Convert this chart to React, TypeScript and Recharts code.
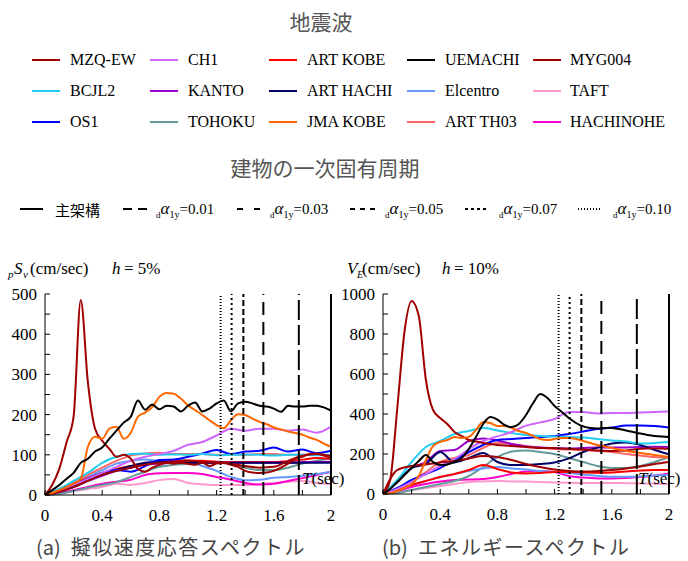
import React from 'react';
import { LineChart, Line, XAxis, YAxis, ReferenceLine } from 'recharts';

// period grids (sec)
const PERIODS = [0, 0.1, 0.2, 0.3, 0.4, 0.5, 0.6, 0.7, 0.8, 0.9, 1.0, 1.1, 1.2, 1.3, 1.4, 1.5, 1.6, 1.7, 1.8, 1.9, 2.0];
const PERIODS_FINE = [
  0, 0.05, 0.1, 0.15, 0.2, 0.25, 0.3, 0.35, 0.4, 0.45, 0.5, 0.55, 0.6, 0.65, 0.7, 0.75, 0.8, 0.85, 0.9, 0.95, 1.0,
  1.05, 1.1, 1.15, 1.2, 1.25, 1.3, 1.35, 1.4, 1.45, 1.5, 1.55, 1.6, 1.65, 1.7, 1.75, 1.8, 1.85, 1.9, 1.95, 2.0,
];

const X_TICKS = [0, 0.2, 0.4, 0.6, 0.8, 1.0, 1.2, 1.4, 1.6, 1.8, 2.0];
const SV_TICKS = [0, 50, 100, 150, 200, 250, 300, 350, 400, 450, 500];
const VE_TICKS = [0, 100, 200, 300, 400, 500, 600, 700, 800, 900, 1000];

// legend order: 5 columns x 3 rows
const WAVES = [
  { name: 'MZQ-EW', color: '#a00000' },
  { name: 'CH1', color: '#cc66ff' },
  { name: 'ART KOBE', color: '#ff0000' },
  { name: 'UEMACHI', color: '#000000' },
  { name: 'MYG004', color: '#a00000' },
  { name: 'BCJL2', color: '#22ccf0' },
  { name: 'KANTO', color: '#9900cc' },
  { name: 'ART HACHI', color: '#000066' },
  { name: 'Elcentro', color: '#6699ff' },
  { name: 'TAFT', color: '#ff99cc' },
  { name: 'OS1', color: '#0000ff' },
  { name: 'TOHOKU', color: '#669999' },
  { name: 'JMA KOBE', color: '#ff6600' },
  { name: 'ART TH03', color: '#ff6666' },
  { name: 'HACHINOHE', color: '#ff00cc' },
];

// natural periods of the building (main frame + damped cases)
const PERIOD_MARKS = [
  { t: 2.0, label: '主架構', dash: undefined, legendDash: undefined },
  { t: 1.775, label: '0.01', dash: '20 5', legendDash: '9 6' },
  { t: 1.527, label: '0.03', dash: '13 7', legendDash: '6 11' },
  { t: 1.387, label: '0.05', dash: '6 3', legendDash: '5 5' },
  { t: 1.305, label: '0.07', dash: '2 3', legendDash: '3 3' },
  { t: 1.228, label: '0.10', dash: '1 2', legendDash: '1 2' },
];

// (a) pseudo velocity response spectra pSv, h = 5%
const svMzq = [0, 25, 65, 130, 195, 485, 280, 165, 135, 115, 95, 100, 90, 65, 58, 68, 75, 80, 78, 80, 78, 75, 80, 72, 78, 80, 75, 70, 60, 56, 55, 56, 60, 68, 78, 90, 95, 102, 103, 98, 92];
const svUemachi = [0, 12, 25, 40, 55, 80, 90, 108, 118, 140, 160, 180, 195, 235, 212, 225, 213, 222, 220, 208, 222, 230, 208, 215, 228, 235, 208, 228, 232, 228, 222, 220, 215, 207, 222, 220, 220, 222, 222, 218, 210];
const svJmaKobe = [0, 5, 12, 20, 28, 40, 120, 145, 140, 165, 170, 140, 155, 195, 205, 219, 244, 254, 252, 240, 223, 211, 199, 186, 174, 166, 186, 201, 199, 190, 182, 176, 168, 163, 158, 154, 150, 143, 137, 128, 120];
const svCh1 = [0, 10, 25, 40, 55, 70, 85, 95, 102, 110, 125, 132, 148, 165, 160, 165, 165, 160, 163, 155, 170];
const svBcjl2 = [0, 15, 35, 55, 80, 95, 102, 103, 100, 101, 100, 102, 99, 100, 101, 100, 98, 100, 100, 99, 100];
const svOs1 = [0, 10, 25, 40, 55, 62, 58, 72, 87, 88, 95, 103, 112, 102, 108, 110, 118, 108, 113, 104, 110];
const svArtKobe = [0, 12, 28, 42, 55, 65, 72, 78, 82, 85, 86, 85, 83, 82, 82, 82, 82, 84, 88, 92, 90];
const svKanto = [0, 8, 20, 35, 48, 60, 68, 75, 78, 80, 80, 80, 80, 80, 80, 80, 80, 80, 82, 82, 82];
const svArtHachi = [0, 10, 22, 38, 52, 62, 72, 80, 83, 82, 80, 80, 80, 80, 80, 80, 80, 80, 80, 80, 80];
const svElcentro = [0, 12, 28, 45, 62, 78, 85, 88, 85, 88, 85, 72, 60, 45, 37, 38, 43, 45, 48, 52, 58];
const svTaft = [0, 5, 10, 15, 20, 28, 25, 30, 37, 40, 30, 27, 25, 25, 25, 27, 30, 33, 35, 30, 27];
const svTohoku = [0, 3, 10, 18, 25, 32, 45, 58, 70, 75, 78, 82, 80, 78, 68, 62, 62, 68, 78, 85, 90];
const svArtTh03 = [0, 15, 30, 50, 68, 85, 98, 103, 105, 102, 102, 102, 100, 100, 100, 102, 102, 100, 100, 100, 98];
const svHachinohe = [0, 5, 12, 20, 28, 33, 38, 50, 54, 55, 55, 52, 45, 38, 30, 26, 28, 35, 42, 50, 57];
const svMyg004 = [0, 8, 20, 35, 50, 60, 68, 75, 80, 82, 85, 83, 80, 78, 72, 68, 70, 85, 98, 102, 97];

// (b) energy spectra VE, h = 10%
const veMzq = [0, 70, 430, 810, 965, 890, 570, 420, 380, 350, 310, 290, 270, 262, 255, 250, 245, 243, 240, 238, 235, 232, 230, 230, 229, 228, 226, 224, 222, 220, 218, 216, 215, 216, 218, 222, 226, 228, 228, 227, 226];
const veUemachi = [0, 25, 60, 95, 130, 165, 195, 160, 145, 148, 160, 180, 225, 285, 350, 385, 372, 345, 335, 350, 395, 455, 500, 480, 440, 410, 380, 355, 338, 330, 328, 330, 330, 325, 318, 310, 302, 295, 290, 287, 285];
const veJmaKobe = [0, 5, 15, 30, 50, 90, 170, 240, 260, 270, 285, 280, 285, 320, 360, 355, 340, 340, 330, 315, 305, 290, 275, 270, 275, 280, 280, 275, 265, 255, 245, 238, 230, 222, 215, 210, 205, 200, 195, 190, 185];
const veCh1 = [0, 25, 60, 100, 140, 175, 225, 265, 288, 310, 342, 358, 375, 410, 410, 402, 405, 405, 408, 410, 412];
const veBcjl2 = [0, 70, 160, 235, 265, 300, 315, 330, 318, 305, 295, 290, 288, 285, 282, 275, 268, 262, 252, 255, 260];
const veOs1 = [0, 30, 70, 100, 130, 170, 210, 245, 270, 275, 280, 285, 290, 300, 312, 325, 332, 342, 343, 340, 332];
const veArtKobe = [0, 20, 45, 65, 85, 100, 120, 145, 125, 108, 103, 105, 110, 110, 108, 106, 108, 112, 118, 120, 120];
const veKanto = [0, 60, 130, 160, 215, 220, 265, 278, 268, 250, 238, 232, 230, 228, 230, 232, 232, 233, 235, 236, 235];
const veArtHachi = [0, 60, 130, 150, 210, 158, 180, 205, 160, 145, 145, 150, 158, 178, 210, 232, 252, 258, 245, 220, 198];
const veElcentro = [0, 20, 45, 65, 85, 100, 115, 128, 135, 128, 122, 115, 110, 105, 98, 90, 86, 86, 88, 92, 96];
const veTaft = [0, 10, 20, 30, 40, 50, 60, 63, 65, 63, 62, 60, 58, 56, 55, 55, 55, 54, 53, 51, 50];
const veTohoku = [0, 5, 20, 35, 50, 65, 90, 135, 185, 212, 218, 210, 200, 180, 160, 140, 130, 130, 140, 160, 185];
const veArtTh03 = [0, 25, 65, 110, 160, 180, 195, 230, 255, 250, 240, 232, 225, 222, 220, 215, 210, 200, 192, 185, 182];
const veHachinohe = [0, 15, 35, 50, 62, 70, 72, 75, 85, 100, 112, 115, 110, 90, 82, 78, 78, 80, 85, 92, 102];
const veMyg004 = [0, 120, 140, 148, 158, 165, 178, 190, 185, 170, 150, 135, 122, 115, 112, 115, 120, 128, 138, 150, 160];

// drawing order (back to front)
const svSeries = [
  { name: 'TAFT', t: PERIODS, v: svTaft },
  { name: 'HACHINOHE', t: PERIODS, v: svHachinohe },
  { name: 'TOHOKU', t: PERIODS, v: svTohoku },
  { name: 'Elcentro', t: PERIODS, v: svElcentro },
  { name: 'ART TH03', t: PERIODS, v: svArtTh03 },
  { name: 'ART KOBE', t: PERIODS, v: svArtKobe },
  { name: 'KANTO', t: PERIODS, v: svKanto },
  { name: 'ART HACHI', t: PERIODS, v: svArtHachi },
  { name: 'OS1', t: PERIODS, v: svOs1 },
  { name: 'BCJL2', t: PERIODS, v: svBcjl2 },
  { name: 'CH1', t: PERIODS, v: svCh1 },
  { name: 'MYG004', t: PERIODS, v: svMyg004 },
  { name: 'MZQ-EW', t: PERIODS_FINE, v: svMzq },
  { name: 'JMA KOBE', t: PERIODS_FINE, v: svJmaKobe },
  { name: 'UEMACHI', t: PERIODS_FINE, v: svUemachi },
];

const veSeries = [
  { name: 'TAFT', t: PERIODS, v: veTaft },
  { name: 'HACHINOHE', t: PERIODS, v: veHachinohe },
  { name: 'TOHOKU', t: PERIODS, v: veTohoku },
  { name: 'Elcentro', t: PERIODS, v: veElcentro },
  { name: 'ART TH03', t: PERIODS, v: veArtTh03 },
  { name: 'ART KOBE', t: PERIODS, v: veArtKobe },
  { name: 'KANTO', t: PERIODS, v: veKanto },
  { name: 'ART HACHI', t: PERIODS, v: veArtHachi },
  { name: 'OS1', t: PERIODS, v: veOs1 },
  { name: 'BCJL2', t: PERIODS, v: veBcjl2 },
  { name: 'CH1', t: PERIODS, v: veCh1 },
  { name: 'MYG004', t: PERIODS, v: veMyg004 },
  { name: 'MZQ-EW', t: PERIODS_FINE, v: veMzq },
  { name: 'JMA KOBE', t: PERIODS_FINE, v: veJmaKobe },
  { name: 'UEMACHI', t: PERIODS_FINE, v: veUemachi },
];

const SERIF = '"Liberation Serif", "Times New Roman", serif';
const CJK = '"Noto Sans CJK JP", "Noto Sans", sans-serif';

const colorOf = (name: string) => WAVES.find((w) => w.name === name)?.color ?? '#000';
const toPoints = (t: number[], v: number[]) => t.map((x, i) => ({ t: x, v: v[i] }));

const xFormat = (t: number) => {
  const k = Math.round(t * 10);
  return k % 4 === 0 ? String(k / 10) : '';
};

interface PanelProps {
  series: { name: string; t: number[]; v: number[] }[];
  yMax: number;
  yTicks: number[];
  labelStep: number;
  width: number;
  height: number;
  yAxisWidth: number;
  marginRight: number;
}

const SpectrumPanel: React.FC<PanelProps> = ({ series, yMax, yTicks, labelStep, width, height, yAxisWidth, marginRight }) => {
  const tickStyle = { fill: '#000', fontSize: 17, fontFamily: SERIF };
  return (
    <LineChart width={width} height={height} margin={{ top: 11, right: marginRight, bottom: 0, left: 0 }}>
      <XAxis
        type="number"
        dataKey="t"
        domain={[0, 2]}
        ticks={X_TICKS}
        interval={0}
        tickFormatter={xFormat}
        height={30}
        stroke="#000"
        tickSize={-5}
        tickMargin={19}
        tick={tickStyle}
      />
      <YAxis
        type="number"
        domain={[0, yMax]}
        ticks={yTicks}
        interval={0}
        tickFormatter={(v: number) => (v % labelStep === 0 ? String(v) : '')}
        width={yAxisWidth}
        stroke="#000"
        tickSize={-5}
        tickMargin={13}
        tick={tickStyle}
      />
      {series.map((s) => (
        <Line
          key={s.name}
          data={toPoints(s.t, s.v)}
          dataKey="v"
          type="monotone"
          stroke={colorOf(s.name)}
          strokeWidth={2}
          dot={false}
          isAnimationActive={false}
        />
      ))}
      {PERIOD_MARKS.map((m) => (
        <ReferenceLine key={m.label} x={m.t} stroke="#000" strokeWidth={2} strokeDasharray={m.dash} />
      ))}
    </LineChart>
  );
};

const LEG_LINE_X = [32, 150, 269, 407, 533];
const LEG_TEXT_X = [70, 188, 307, 445, 570];
const LEG_ROW_Y = [60, 91, 122];

const MARK_LEGEND = [
  { x1: 20, x2: 43, tx: 55 },
  { x1: 123, x2: 147, tx: 156 },
  { x1: 237, x2: 260, tx: 270 },
  { x1: 350, x2: 375, tx: 385 },
  { x1: 465, x2: 486, tx: 499 },
  { x1: 578, x2: 600, tx: 613 },
];

export default function App() {
  return (
    <div style={{ position: 'absolute', left: 0, top: 0, width: 688, height: 561, background: '#fff', overflow: 'hidden' }}>
      <div style={{ position: 'absolute', left: 0, top: 283 }}>
        <SpectrumPanel series={svSeries} yMax={500} yTicks={SV_TICKS} labelStep={100} width={345} height={242} yAxisWidth={45} marginRight={14} />
      </div>
      <div style={{ position: 'absolute', left: 340, top: 283 }}>
        <SpectrumPanel series={veSeries} yMax={1000} yTicks={VE_TICKS} labelStep={200} width={341} height={241} yAxisWidth={43} marginRight={12} />
      </div>

      <svg width={688} height={561} style={{ position: 'absolute', left: 0, top: 0, pointerEvents: 'none' }}>
        <text x={321} y={21} textAnchor="middle" dominantBaseline="central" fontFamily={CJK} fontSize={21} fill="#555">地震波</text>

        {WAVES.map((w, i) => {
          const col = i % 5;
          const y = LEG_ROW_Y[Math.floor(i / 5)];
          return (
            <g key={w.name}>
              <line x1={LEG_LINE_X[col]} x2={LEG_LINE_X[col] + 28} y1={y} y2={y} stroke={w.color} strokeWidth={2} />
              <text x={LEG_TEXT_X[col]} y={y + 5} fontFamily={SERIF} fontSize={16} fill="#000">{w.name}</text>
            </g>
          );
        })}

        <text x={325} y={167} textAnchor="middle" dominantBaseline="central" fontFamily={CJK} fontSize={21} fill="#555">建物の一次固有周期</text>

        {PERIOD_MARKS.map((m, i) => {
          const p = MARK_LEGEND[i];
          const y = 209;
          return (
            <g key={m.label}>
              <line x1={p.x1} x2={p.x2} y1={y} y2={y} stroke="#000" strokeWidth={2} strokeDasharray={m.legendDash} />
              {i === 0 ? (
                <text x={p.tx} y={y} dominantBaseline="central" fontFamily={CJK} fontSize={15} fill="#000">{m.label}</text>
              ) : (
                <text x={p.tx} y={y + 5} fontFamily={SERIF} fill="#000">
                  <tspan fontSize={9} dy={4}>d</tspan>
                  <tspan fontSize={17} fontStyle="italic" dy={-4}>α</tspan>
                  <tspan fontSize={10} dy={4}>1y</tspan>
                  <tspan fontSize={15} dy={-4}>={m.label}</tspan>
                </text>
              )}
            </g>
          );
        })}

        {/* axis titles */}
        <g fontFamily={SERIF} fill="#000">
          <text x={8} y={278} fontSize={11} fontStyle="italic">p</text>
          <text x={14} y={274} fontSize={17} fontStyle="italic">S</text>
          <text x={23} y={278} fontSize={11} fontStyle="italic">v</text>
          <text x={30} y={274} fontSize={17}>(cm/sec)</text>
          <text x={112} y={274} fontSize={17} fontStyle="italic">h</text>
          <text x={124} y={274} fontSize={17}>= 5%</text>

          <text x={347} y={274} fontSize={17} fontStyle="italic">V</text>
          <text x={357} y={278} fontSize={10} fontStyle="italic">E</text>
          <text x={362} y={274} fontSize={17}>(cm/sec)</text>
          <text x={442} y={274} fontSize={17} fontStyle="italic">h</text>
          <text x={454} y={274} fontSize={17}>= 10%</text>

          <text x={302} y={484} fontSize={17}>
            <tspan fontStyle="italic">T</tspan>(sec)
          </text>
          <text x={638} y={484} fontSize={17}>
            <tspan fontStyle="italic">T</tspan>(sec)
          </text>
        </g>

        <text x={36} y={555} fontFamily={CJK} fontSize={20} fill="#444">
          (a)<tspan dx={10} letterSpacing={1.5}>擬似速度応答スペクトル</tspan>
        </text>
        <text x={382} y={555} fontFamily={CJK} fontSize={20} fill="#444">
          (b)<tspan dx={10} letterSpacing={1.5}>エネルギースペクトル</tspan>
        </text>
      </svg>
    </div>
  );
}
